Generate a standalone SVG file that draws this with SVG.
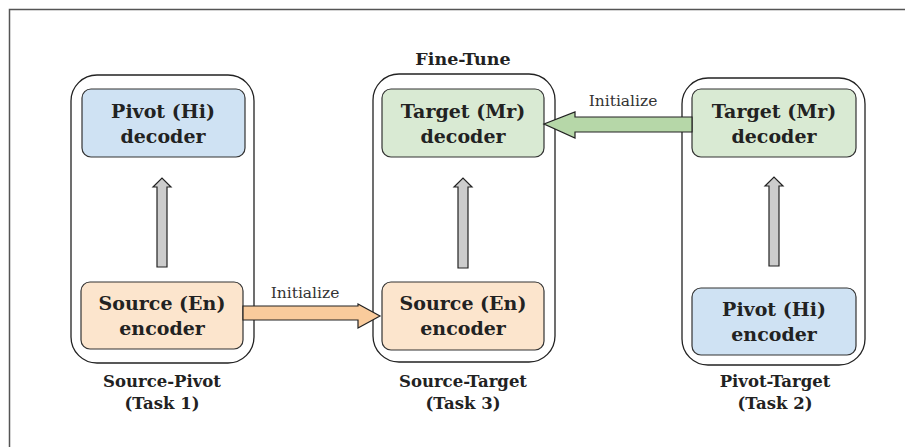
<svg xmlns="http://www.w3.org/2000/svg" width="905" height="447" viewBox="0 0 905 447">
<style>
.frame{fill:#fff;stroke:#555;stroke-width:1.5}
.cont{fill:#fff;stroke:#222;stroke-width:1.3}
.box{stroke:#333;stroke-width:1.2}
.blue{fill:#cfe2f3}.orange{fill:#fce5cd}.green{fill:#d9ead3}
.t{font-family:"DejaVu Serif","Liberation Serif",serif;font-weight:bold;font-size:19px;fill:#222;text-anchor:middle}
.lab{font-family:"DejaVu Serif","Liberation Serif",serif;font-weight:bold;font-size:16.5px;fill:#222;text-anchor:middle}
.init{font-family:"DejaVu Serif","Liberation Serif",serif;font-size:15.5px;fill:#333;text-anchor:middle}
.up{fill:#ccc;stroke:#222;stroke-width:1.2}
</style>
<rect class="frame" x="9.5" y="9.5" width="920" height="460"/>
<g id="task1">
<rect class="cont" x="71" y="75" width="183" height="288" rx="26"/>
<text class="lab" x="162" y="387">Source-Pivot</text>
<text class="lab" x="162" y="409">(Task 1)</text>
</g>
<g id="task3">
<rect class="cont" x="373" y="74" width="182" height="288" rx="26"/>
<text class="lab" x="463" y="65" style="font-size:17.5px">Fine-Tune</text>
<text class="lab" x="463" y="387">Source-Target</text>
<text class="lab" x="463" y="409">(Task 3)</text>
</g>
<g id="task2">
<rect class="cont" x="682" y="78" width="183" height="287" rx="26"/>
<text class="lab" x="775" y="387">Pivot-Target</text>
<text class="lab" x="775" y="409">(Task 2)</text>
</g>
<g id="pivot-decoder">
<rect class="box blue" x="82" y="89" width="163" height="68" rx="9"/>
<text class="t" x="163" y="118">Pivot (Hi)</text>
<text class="t" x="163" y="143">decoder</text>
</g>
<g id="source-encoder-1">
<rect class="box orange" x="81" y="282" width="162" height="67" rx="9"/>
<text class="t" x="162" y="310">Source (En)</text>
<text class="t" x="162" y="335">encoder</text>
</g>
<g id="target-decoder-3">
<rect class="box green" x="382" y="89" width="162" height="68" rx="9"/>
<text class="t" x="463" y="118">Target (Mr)</text>
<text class="t" x="463" y="143">decoder</text>
</g>
<g id="source-encoder-3">
<rect class="box orange" x="382" y="282" width="162" height="68" rx="9"/>
<text class="t" x="463" y="310">Source (En)</text>
<text class="t" x="463" y="335">encoder</text>
</g>
<g id="target-decoder-2">
<rect class="box green" x="692" y="89" width="164" height="68" rx="9"/>
<text class="t" x="774" y="118">Target (Mr)</text>
<text class="t" x="774" y="143">decoder</text>
</g>
<g id="pivot-encoder-2">
<rect class="box blue" x="692" y="288" width="164" height="67" rx="9"/>
<text class="t" x="774" y="316">Pivot (Hi)</text>
<text class="t" x="774" y="341">encoder</text>
</g>
<g id="connectors">
<polygon class="up" points="157,267 167,267 167,187 171,187 162,178 153,187 157,187"/>
<polygon class="up" points="458,268 468,268 468,187 472,187 463,178 454,187 458,187"/>
<polygon class="up" points="769,266 779,266 779,186 783,186 774,177 765,186 769,186"/>
<polygon fill="#f9cb9c" stroke="#222" stroke-width="1.2" points="243,306 358,306 358,304 380,316 358,328 358,320 243,320"/>
<polygon fill="#b6d7a8" stroke="#222" stroke-width="1.2" points="692,117 575,117 575,112 544,124 575,138 575,132 692,132"/>
<text class="init" x="305" y="298">Initialize</text>
<text class="init" x="623" y="106">Initialize</text>
</g>
</svg>
